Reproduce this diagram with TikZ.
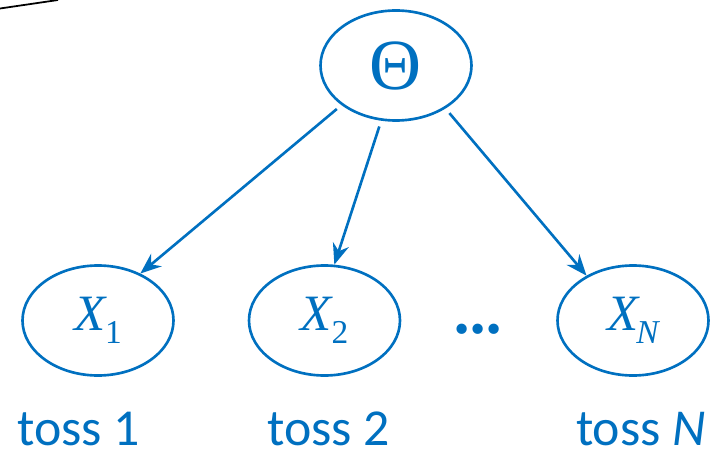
\documentclass[tikz,border=0pt]{standalone}
\usepackage{fontspec}
\setmainfont{Carlito}
\newfontfamily\tmsfont{Liberation Serif}[Scale=1]
\usetikzlibrary{shapes.geometric,arrows.meta}
\definecolor{nodeblue}{RGB}{0,112,192}
% random variable X with a lowered subscript
\newcommand{\rvar}[1]{{\fontspec{Liberation Serif}\fontsize{29}{29}\selectfont\itshape X\raisebox{-0.26cm}{\fontsize{19}{19}\selectfont#1}}}

\begin{document}
\begin{tikzpicture}[line width=1.5pt,line join=round,
  rv/.style={ellipse,draw=nodeblue,text=nodeblue,minimum width=3.02cm,minimum height=2.2cm,inner sep=0pt},
  dep/.style={draw=nodeblue,-{Stealth[length=4.2mm,width=3.3mm]},shorten <=1.2mm},
  lbl/.style={text=nodeblue,anchor=base,inner sep=0pt,font=\fontsize{29.5}{30}\selectfont}]
  \useasboundingbox (0,0) rectangle (14.34,-8.98);
  \draw[black,line width=1pt] (0,-0.17) -- (1.16,0);
  % parameter and the tosses
  \node[rv] (theta) at (7.92,-1.31) {\fontspec{Liberation Serif}\fontsize{41}{41}\selectfont Θ};
  \node[rv] (x1) at (1.96,-6.41) {\rvar{\upshape 1}};
  \node[rv] (x2) at (6.49,-6.41) {\rvar{\upshape 2}};
  \node[rv] (xN) at (12.66,-6.41) {\rvar{\kern-0.06em N}};
  \node[text=nodeblue,anchor=base,inner sep=0pt,font=\fontspec{Liberation Serif}\fontsize{36}{36}\selectfont\bfseries\itshape] (dots) at (9.61,-6.66) {...};
  \foreach \s/\t in {-144/x1.48,-105/x2.80,-41/xN.136}{\draw[dep] (theta.\s) -- (\t);}
  % labels under the nodes
  \node[lbl] (toss1) at (1.57,-8.90) {toss 1};
  \node[lbl] (toss2) at (6.57,-8.90) {toss 2};
  \node[lbl] (tossN) at (12.82,-8.90) {toss \textit{N}};
\end{tikzpicture}
\end{document}
